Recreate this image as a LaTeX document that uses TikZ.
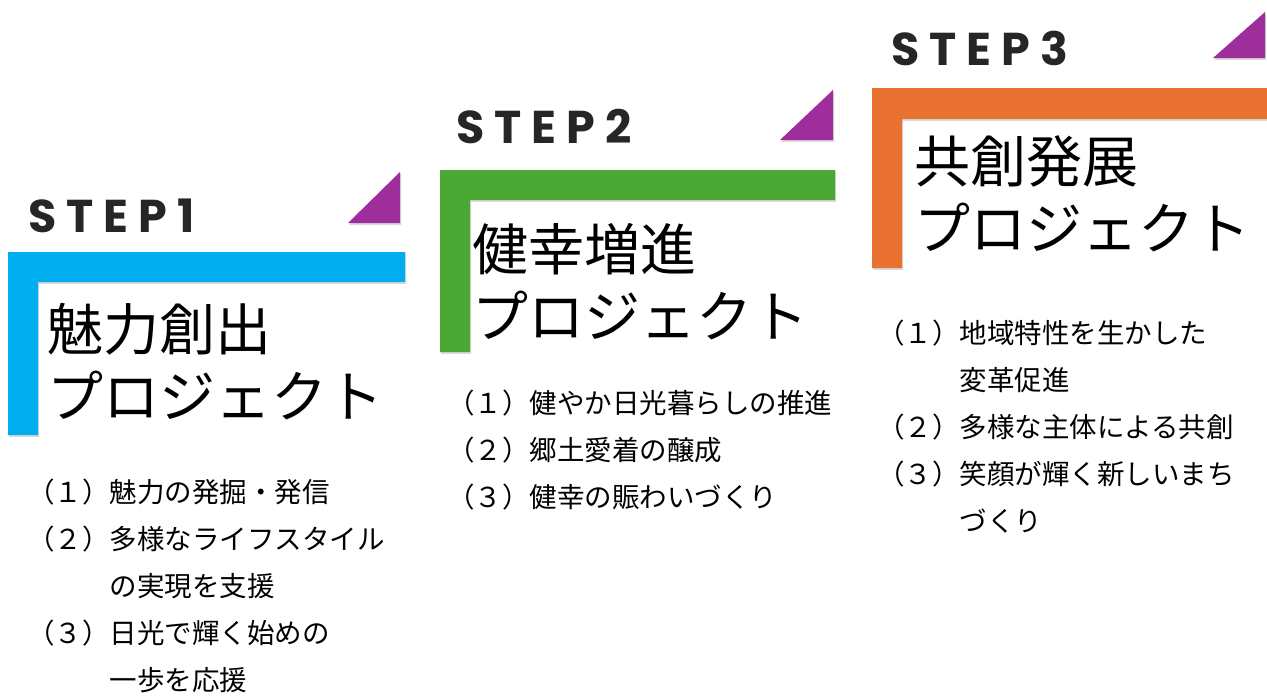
\documentclass[tikz,border=0pt]{standalone}
\usepackage{fontspec}
\newfontfamily\jpfont{Noto Sans CJK JP}
\newfontfamily\stepfont[LetterSpace=22]{Poppins}
\usetikzlibrary{shadows}

\definecolor{stepblue}{RGB}{0,174,239}
\definecolor{stepgreen}{RGB}{76,168,52}
\definecolor{steporange}{RGB}{233,113,50}
\definecolor{steppurple}{RGB}{158,46,155}

\begin{document}
\begin{tikzpicture}[
    x=1pt, y=-1pt,
    bar/.style={
        fill=#1,
        drop shadow={shadow xshift=1.2pt, shadow yshift=-1.8pt, opacity=0.3}
    },
    flag/.style={
        fill=steppurple,
        drop shadow={shadow xshift=1.2pt, shadow yshift=-1.8pt, opacity=0.3}
    },
    steplabel/.style={
        font=\stepfont\bfseries\fontsize{46}{46}\selectfont,
        text=black!85,
        inner sep=0pt,
        anchor=base west
    },
    title/.style={
        font=\jpfont\fontsize{56}{67}\selectfont,
        align=left,
        inner sep=0pt,
        anchor=north west
    },
    itemlist/.style={
        font=\jpfont\fontsize{27.5}{47}\selectfont,
        align=left,
        inner sep=0pt,
        anchor=north west
    }
]

\useasboundingbox (0,0) rectangle (1267,696);

\coordinate (corner1) at (8,252);
\coordinate (corner2) at (440,170);
\coordinate (corner3) at (872,88);

\fill[bar=stepblue] (corner1) -- ++(397,0) -- ++(0,30) -- ++(-367,0) -- ++(0,153) -- ++(-30,0) -- cycle;
\fill[bar=stepgreen] (corner2) -- ++(395,0) -- ++(0,30) -- ++(-365,0) -- ++(0,152) -- ++(-30,0) -- cycle;
\fill[bar=steporange] (corner3) -- ++(397,0) -- ++(0,31) -- ++(-367,0) -- ++(0,149) -- ++(-30,0) -- cycle;

\fill[flag] (348,223) -- (400,172) -- (400,223) -- cycle;
\fill[flag] (780,140) -- (833,90) -- (833,140) -- cycle;
\fill[flag] (1213,58) -- (1265,12) -- (1265,58) -- cycle;

\node[steplabel] (step1) at (28,232) {STEP1};
\node[steplabel] (step2) at (456,143) {STEP2};
\node[steplabel] (step3) at (891,65) {STEP3};

\node[title] (title1) at (47,303) {魅力創出\\プロジェクト};
\node[title] (title2) at (472,223) {健幸増進\\プロジェクト};
\node[title] (title3) at (914,135) {共創発展\\プロジェクト};

\node[itemlist] (list1) at (27,479) {（１）魅力の発掘・発信\\
    （２）多様なライフスタイル\\
    \hspace*{3em}の実現を支援\\
    （３）日光で輝く始めの\\
    \hspace*{3em}一歩を応援};
\node[itemlist] (list2) at (447,390) {（１）健やか日光暮らしの推進\\
    （２）郷土愛着の醸成\\
    （３）健幸の賑わいづくり};
\node[itemlist] (list3) at (877,320) {（１）地域特性を生かした\\
    \hspace*{3em}変革促進\\
    （２）多様な主体による共創\\
    （３）笑顔が輝く新しいまち\\
    \hspace*{3em}づくり};

\end{tikzpicture}
\end{document}
